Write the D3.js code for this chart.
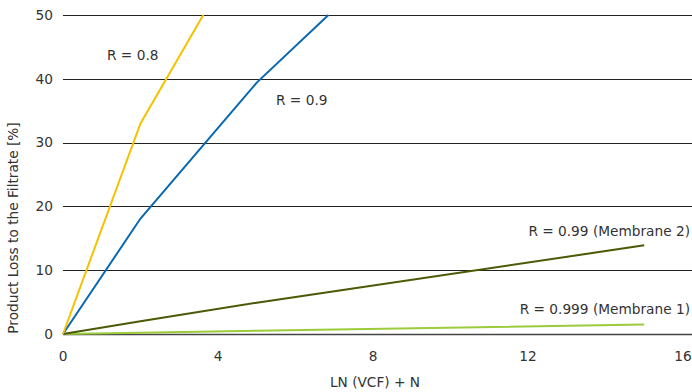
<!DOCTYPE html>
<html>
<head>
<meta charset="utf-8">
<script src="https://cdn.jsdelivr.net/npm/d3@7"></script>
<style>
  body { margin: 0; background: #fff; }
  text { font-family: "DejaVu Sans", Verdana, sans-serif; fill: #333; }
</style>
</head>
<body>
<svg id="chart" width="692" height="392"></svg>
<script>
// values
const xTicks = [0, 4, 8, 12, 16];
const yTicks = [0, 10, 20, 30, 40, 50];

const r08 = [[0, 0], [2, 33], [3.62, 50]];
const r09 = [[0, 0], [2, 18.1], [5, 39.4], [6.85, 50]];
const r099 = [[0, 0], [2, 2], [5, 4.9], [15, 13.9]];
const r0999 = [[0, 0], [2, 0.2], [5, 0.5], [15, 1.5]];

const seriesNames = ['R = 0.8', 'R = 0.9', 'R = 0.99 (Membrane 2)', 'R = 0.999 (Membrane 1)'];
const seriesColors = ['#f5c100', '#0a68b0', '#4b5a06', '#9ccb3b'];

const svg = d3.select('#chart');
const fontSize = '13.7px';

const x = d3.scaleLinear().domain([0, 16]).range([63, 683]);
const y = d3.scaleLinear().domain([0, 50]).range([334, 15]);

// horizontal grid
svg.append('g')
  .selectAll('line')
  .data(yTicks)
  .enter().append('line')
  .attr('x1', x(0))
  .attr('x2', 692)
  .attr('y1', d => Math.round(y(d)) + 0.5)
  .attr('y2', d => Math.round(y(d)) + 0.5)
  .attr('stroke', d => d === 0 ? '#444' : '#222')
  .attr('stroke-width', d => d === 0 ? 1.5 : 1);

// y tick labels
svg.append('g')
  .selectAll('text')
  .data(yTicks)
  .enter().append('text')
  .attr('x', 53)
  .attr('y', d => y(d))
  .attr('dy', '0.35em')
  .attr('text-anchor', 'end')
  .style('font-size', fontSize)
  .text(d => d);

// x tick labels
svg.append('g')
  .selectAll('text')
  .data(xTicks)
  .enter().append('text')
  .attr('x', d => x(d))
  .attr('y', 361)
  .attr('text-anchor', 'middle')
  .style('font-size', fontSize)
  .text(d => d);

// axis titles
svg.append('text')
  .attr('x', 375)
  .attr('y', 387)
  .attr('text-anchor', 'middle')
  .style('font-size', fontSize)
  .text('LN (VCF) + N');

svg.append('text')
  .attr('transform', 'translate(18,228) rotate(-90)')
  .attr('text-anchor', 'middle')
  .style('font-size', fontSize)
  .text('Product Loss to the Filtrate [%]');

// lines
const line = d3.line()
  .x(d => x(d[0]))
  .y(d => y(d[1]));

const allSeries = [r08, r09, r099, r0999];
// flat ones first so the steep ones sit on top
[3, 2, 1, 0].forEach((i) => {
  svg.append('path')
    .datum(allSeries[i])
    .attr('d', line)
    .attr('fill', 'none')
    .attr('stroke', seriesColors[i])
    .attr('stroke-width', 2);
});

// series labels
const labels = [
  {name: seriesNames[0], x: 107, y: 60, anchor: 'start'},
  {name: seriesNames[1], x: 276, y: 105, anchor: 'start'},
  {name: seriesNames[2], x: 690, y: 236, anchor: 'end'},
  {name: seriesNames[3], x: 690, y: 314, anchor: 'end'}
];
svg.append('g')
  .selectAll('text')
  .data(labels)
  .enter().append('text')
  .attr('x', d => d.x)
  .attr('y', d => d.y)
  .attr('text-anchor', d => d.anchor)
  .style('font-size', fontSize)
  .text(d => d.name);
</script>
</body>
</html>
